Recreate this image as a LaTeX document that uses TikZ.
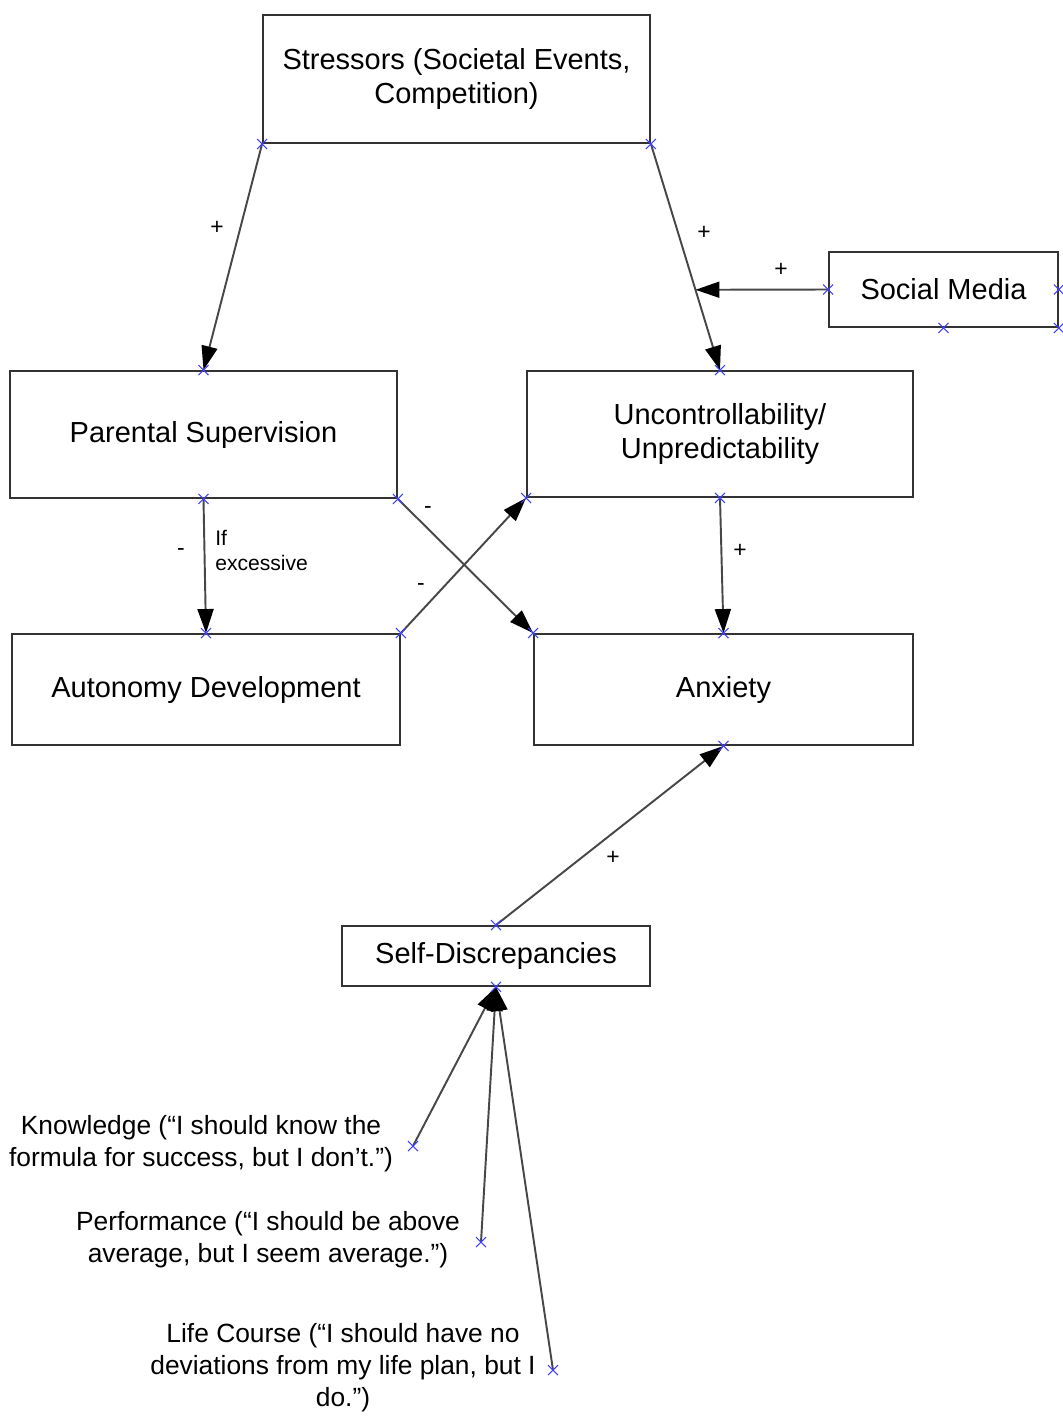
\documentclass[tikz,border=0pt]{standalone}
\usepackage{fontspec}
\setmainfont{Liberation Sans}
\usetikzlibrary{arrows.meta}

\tikzset{
	box/.style={draw=black!80, line width=1.1pt, inner sep=0pt, align=center, font=\fontsize{16.5}{19.5}\selectfont},
	link/.style={draw=black!72, line width=1.1pt, -{Triangle[length=0.48cm,width=0.32cm,color=black,fill=black]}},
	sign/.style={inner sep=0pt, font=\fontsize{13}{15}\selectfont},
	quote/.style={inner sep=0pt, align=center, font=\fontsize{15}{18.2}\selectfont},
	cmk/.style={draw=blue!75, line width=0.6pt},
}
\newcommand{\cmark}[1]{\draw[cmk] (#1) +(-5,-5) -- +(5,5) +(-5,5) -- +(5,-5);}

\begin{document}
\begin{tikzpicture}[x=0.02cm, y=-0.02cm]
	\useasboundingbox (0,0) rectangle (1062,1427);
	%BOXES
	\node[box, minimum width=7.74cm, minimum height=2.56cm] (stress) at (456.5,79) {Stressors (Societal Events,\\ Competition)};
	\node[box, minimum width=7.74cm, minimum height=2.54cm] (parent) at (203.5,434.5) {Parental Supervision};
	\node[box, minimum width=7.72cm, minimum height=2.52cm] (uncon) at (720,434) {Uncontrollability/\\ Unpredictability};
	\node[box, minimum width=4.58cm, minimum height=1.5cm] (social) at (943.5,289.5) {Social Media};
	\node[box, minimum width=7.76cm, minimum height=2.22cm] (auto) at (206,689.5) {Autonomy Development};
	\node[box, minimum width=7.58cm, minimum height=2.22cm] (anx) at (723.5,689.5) {Anxiety};
	\node[box, minimum width=6.16cm, minimum height=1.2cm] (selfd) at (496,956) {Self-Discrepancies};
	
	%DISCREPANCY TEXTS
	\node[quote] (know) at (201,1144) {Knowledge (“I should know the\\ formula for success, but I don’t.”)};
	\node[quote] (perf) at (268,1240) {Performance (“I should be above\\ average, but I seem average.”)};
	\node[quote] (life) at (343,1368) {Life Course (“I should have no\\ deviations from my life plan, but I\\ do.”)};
	\coordinate (knowE) at (413,1146);
	\coordinate (perfE) at (481,1242);
	\coordinate (lifeE) at (553,1370);
	
	%ARROWS
	\draw[link] (stress.south west) -- (parent.north);
	\draw[link] (stress.south east) -- (uncon.north) coordinate[pos=0.645] (tap);
	\draw[link] (social.west) -- (tap);
	\draw[link] (parent.south) -- (auto.north);
	\draw[link] (parent.south east) -- (anx.north west);
	\draw[link] (auto.north east) -- (uncon.south west);
	\draw[link] (uncon.south) -- (anx.north);
	\draw[link] (selfd.north) -- (anx.south);
	\draw[link] (knowE) -- (selfd.south);
	\draw[link] (perfE) -- (selfd.south);
	\draw[link] (lifeE) -- (selfd.south);
	
	%SIGNS
	\node[sign] (s1) at (217,228) {+};
	\node[sign] (s2) at (704,233) {+};
	\node[sign] (s3) at (781,270) {+};
	\node[sign] (s4) at (181,552) {-};
	\node[sign, align=left, anchor=north west, font=\fontsize{12}{14.2}\selectfont] (s4b) at (215,530) {If\\ excessive};
	\node[sign] (s5) at (428,510) {-};
	\node[sign] (s6) at (421,587) {-};
	\node[sign] (s7) at (740,551) {+};
	\node[sign] (s8) at (613,858) {+};
	
	%CONNECTION MARKS
	\foreach \p in {stress.south west, stress.south east, parent.north, parent.south, parent.south east,
		uncon.north, uncon.south west, uncon.south, social.west, social.east, social.south, social.south east,
		auto.north, auto.north east, anx.north west, anx.north, anx.south, selfd.north, selfd.south,
		knowE, perfE, lifeE}
		{\cmark{\p}}
\end{tikzpicture}
\end{document}
